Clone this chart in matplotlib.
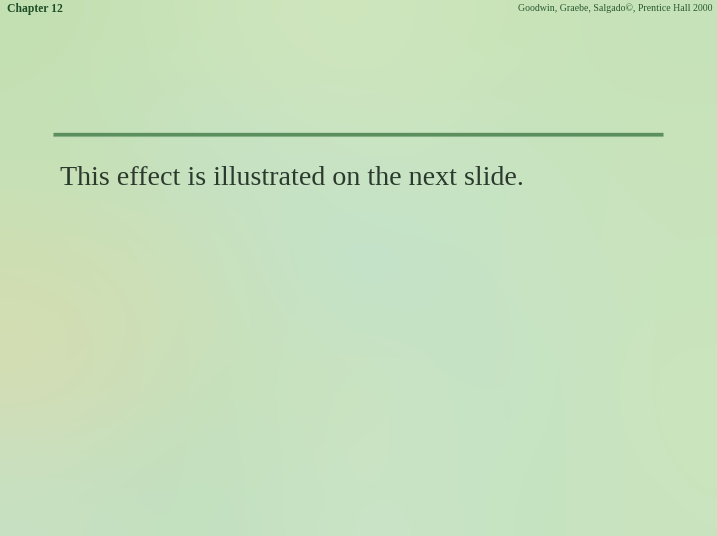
import matplotlib.pyplot as plt
import numpy as np

chapter_label = "Chapter 12"
credit_label = "Goodwin, Graebe, Salgado\u00a9, Prentice Hall 2000"
body_text = "This effect is illustrated on the next slide."

# rough colour patches of the textured slide background (rows top -> bottom)
bg_colors = np.array([
    [[195, 224, 178], [204, 228, 186], [208, 230, 190], [202, 228, 184], [198, 226, 184]],
    [[198, 225, 182], [194, 225, 200], [204, 229, 194], [196, 227, 196], [202, 228, 186]],
    [[208, 222, 178], [204, 225, 186], [190, 226, 208], [202, 227, 194], [199, 228, 190]],
    [[214, 220, 178], [196, 225, 188], [206, 228, 190], [194, 226, 200], [204, 229, 188]],
    [[199, 225, 194], [192, 223, 190], [204, 229, 200], [196, 227, 194], [202, 228, 190]],
]) / 255.0

fig = plt.figure(figsize=(7.17, 5.36), dpi=100)
ax = fig.add_axes([0, 0, 1, 1])
ax.set_xlim(0, 717)
ax.set_ylim(536, 0)
ax.axis("off")

ax.imshow(bg_colors, extent=[0, 717, 536, 0], interpolation="bicubic", aspect="auto", zorder=0)

ax.text(7, 9, chapter_label, fontsize=8.4, fontweight="bold", family="Liberation Serif",
        color="#1f4f28", va="center", ha="left")
ax.text(712, 8, credit_label, fontsize=7.1, family="Liberation Serif",
        color="#2a5a30", va="center", ha="right")

ax.plot([53, 663], [134, 134], color="#5b8f5e", lw=2.4, solid_capstyle="butt", zorder=2)
ax.plot([53, 663], [136, 136], color="#8fb890", lw=0.8, solid_capstyle="butt", zorder=1)

ax.text(60, 185, body_text, fontsize=20.2, family="Liberation Serif",
        color="#2b3a2c", va="baseline", ha="left")

fig.savefig("out.png", dpi=100)
